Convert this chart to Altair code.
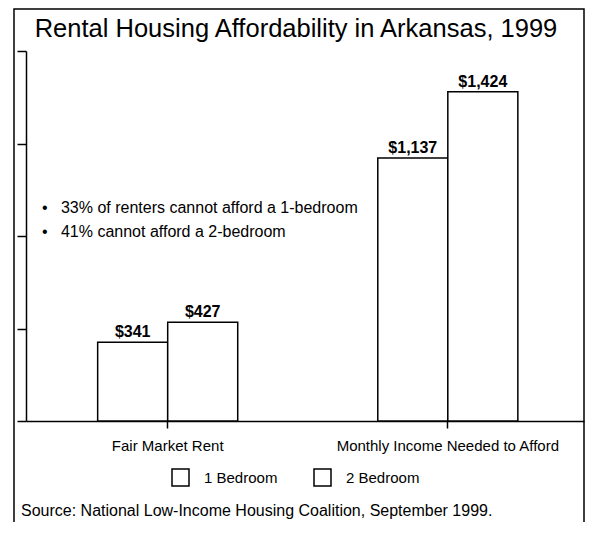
import altair as alt
import pandas as pd

# ---- data ----
categories = ["Fair Market Rent", "Monthly Income Needed to Afford"]
bedrooms = ["1 Bedroom", "2 Bedroom"]
values_1br = [341, 1137]
values_2br = [427, 1424]
y_ticks = [0, 400, 800, 1200, 1600]
notes = ["33% of renters cannot afford a 1-bedroom", "41% cannot afford a 2-bedroom"]
title_text = "Rental Housing Affordability in Arkansas, 1999"
source_text = "Source: National Low-Income Housing Coalition, September 1999."

rows = []
for i, c in enumerate(categories):
    rows.append({"category": c, "bedroom": bedrooms[0], "value": values_1br[i]})
    rows.append({"category": c, "bedroom": bedrooms[1], "value": values_2br[i]})
df = pd.DataFrame(rows)

FONT = "Liberation Sans"
W, H = 558, 370

x_enc = alt.X(
    "category:N",
    sort=categories,
    scale=alt.Scale(paddingInner=0.5, paddingOuter=0.246, align=0.52),
    axis=alt.Axis(
        title=None, labelAngle=0, labelFontSize=15, labelColor="black",
        labelPadding=10, labelLimit=0, tickSize=7, tickWidth=1.5,
        tickColor="black", domainColor="black", domainWidth=1.5, labelFont=FONT,
    ),
)
xoff_enc = alt.XOffset("bedroom:N", sort=bedrooms, scale=alt.Scale(paddingInner=0, paddingOuter=0))
y_enc = alt.Y(
    "value:Q",
    scale=alt.Scale(domain=[0, 1600], nice=False),
    axis=alt.Axis(
        title=None, labels=False, values=y_ticks, grid=False, tickSize=9,
        tickWidth=1.5, tickColor="black", domainColor="black", domainWidth=1.5,
    ),
)

bars = alt.Chart(df).mark_bar(stroke="black", strokeWidth=1.5).encode(
    x=x_enc,
    xOffset=xoff_enc,
    y=y_enc,
    color=alt.Color(
        "bedroom:N",
        sort=bedrooms,
        scale=alt.Scale(domain=bedrooms, range=["white", "white"]),
        legend=alt.Legend(
            title=None, orient="none", legendX=145, legendY=417,
            direction="horizontal", symbolType="square", symbolSize=289,
            symbolStrokeColor="black", symbolStrokeWidth=1.5,
            labelFontSize=15, labelFont=FONT, labelColor="black",
            labelOffset=14, columnPadding=33,
        ),
    ),
)

labels = alt.Chart(df).mark_text(
    dy=-5, fontSize=16, fontWeight="bold", font=FONT, color="black", baseline="alphabetic"
).encode(
    x=alt.X("category:N", sort=categories),
    xOffset=alt.XOffset("bedroom:N", sort=bedrooms),
    y=alt.Y("value:Q"),
    text=alt.Text("value:Q", format="$,"),
)

one = alt.Data(values=[{"k": 1}])
NB = "\u00a0"

notes_layer = alt.Chart(one).mark_text(
    align="left", baseline="middle", fontSize=16, font=FONT, color="black", lineHeight=24
).encode(
    x=alt.value(16), y=alt.value(157),
    text=alt.value(["\u2022" + NB * 3 + n for n in notes]),
)

source_layer = alt.Chart(one).mark_text(
    align="left", baseline="middle", fontSize=16, font=FONT, color="black"
).encode(x=alt.value(-5), y=alt.value(460), text=alt.value(source_text))

title_layer = alt.Chart(one).mark_text(
    align="center", baseline="alphabetic", fontSize=25.5, font=FONT, color="black"
).encode(x=alt.value(270), y=alt.value(-14), text=alt.value(title_text))

frame = alt.Chart(one).mark_rect(fillOpacity=0, stroke="black", strokeWidth=1.5).encode(
    x=alt.value(-12), x2=alt.value(W), y=alt.value(-42), y2=alt.value(495)
)

chart = alt.layer(
    frame, bars, labels, notes_layer, source_layer, title_layer
).properties(
    width=W,
    height=H,
    autosize=alt.AutoSizeParams(type="none"),
    padding={"left": 18, "top": 43, "right": 1, "bottom": 101},
).configure_view(stroke=None)

chart.save("out.html", embed_options={"renderer": "svg", "actions": False})
